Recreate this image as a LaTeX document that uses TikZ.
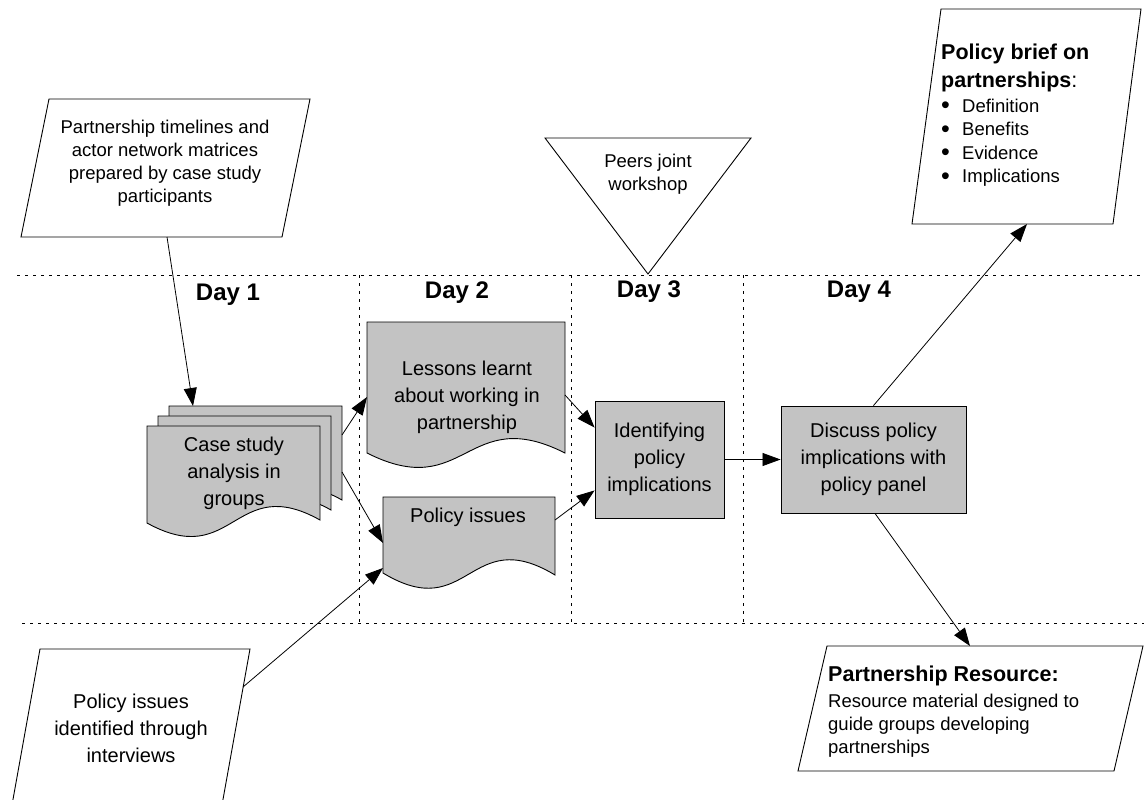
\documentclass[tikz,border=0pt]{standalone}
\usepackage{fontspec}
\setmainfont{Liberation Sans}
\usetikzlibrary{arrows.meta,calc}
\definecolor{docgray}{RGB}{195,195,195}
\newcommand{\blt}{\makebox[21pt][l]{\raisebox{-1.5pt}{\fontsize{25}{23}\selectfont\textbullet}}}

\begin{document}
\begin{tikzpicture}[x=1pt,y=-1pt,
    every node/.style={inner sep=0pt},
    body/.style={font=\fontsize{20}{27}\selectfont, align=center},
    note/.style={font=\fontsize{18.5}{23}\selectfont, align=center},
    head/.style={font=\fontsize{21.5}{28}\selectfont\bfseries, align=left, anchor=north west},
    list/.style={font=\fontsize{18.5}{23.5}\selectfont, align=left, anchor=north west},
    day/.style={font=\fontsize{24}{28}\selectfont\bfseries},
    frame/.style={draw, line width=0.9pt},
    shade/.style={frame, fill=docgray},
    proc/.style={shade, body},
    sep/.style={line width=1pt, dash pattern=on 3pt off 5pt},
    arr/.style={line width=0.8pt, -{Triangle[length=18pt,width=13pt]}}]

    \useasboundingbox (0,0) rectangle (1144,800);

    \draw[sep] (17,275) -- (1144,275);
    \draw[sep] (22,623) -- (1144,623);
    \foreach \x in {359,571,743}
        \draw[sep] (\x,275) -- (\x,623);

    \node[day] (d1) at (228,295) {Day 1};
    \node[day] (d2) at (457,293) {Day 2};
    \node[day] (d3) at (649,292) {Day 3};
    \node[day] (d4) at (859,292) {Day 4};

    \draw[frame] (49,99) -- (310,99) -- (282,237) -- (21,237) -- cycle;
    \node[note] (prep) at (165,163) {Partnership timelines and\\actor network matrices\\prepared by case study\\participants};

    \draw[frame] (545,138) -- (751,138) -- (648,274) -- cycle;
    \node[note] (peers) at (648,174) {Peers joint\\workshop};

    \draw[frame] (941,9) -- (1141,9) -- (1113,224) -- (912,224) -- cycle;
    \node[head] (brief) at (941,43.5) {Policy brief on\\partnerships{\mdseries :}};
    \node[list] (brieflist) at (941,98.5) {\blt Definition\\\blt Benefits\\\blt Evidence\\\blt Implications};

    \draw[frame] (827,646) -- (1143,646) -- (1114,771) -- (798,771) -- cycle;
    \node[head] (res) at (828,665.5) {Partnership Resource:};
    \node[list, font=\fontsize{18.5}{23}\selectfont] (reslist) at (828,693.5) {Resource material designed to\\guide groups developing\\partnerships};

    \draw[frame] (40,649) -- (250,649) -- (222,805) -- (12,805) -- cycle;
    \node[body] (intv) at (131,728) {Policy issues\\identified through\\interviews};

    \foreach \i in {2,1,0}
        \draw[shade, shift={(11*\i,-10*\i)}] (147,523) -- (147,426) -- (320,426) -- (320,520)
            .. controls (234,472) and (234,571) .. (147,523) -- cycle;
    \node[body] (case) at (234,473) {Case study\\analysis in\\groups};

    \draw[shade] (367,453) -- (367,322) -- (565,322) -- (565,453)
        .. controls (466,403) and (466,503) .. (367,453) -- cycle;
    \node[body] (lessons) at (467,397) {Lessons learnt\\about working in\\partnership};

    \draw[shade] (383,573) -- (383,497) -- (555,497) -- (555,575)
        .. controls (469,523) and (469,625) .. (383,573) -- cycle;
    \node[body] (issues) at (468,517) {Policy issues};

    \node[proc, minimum width=129pt, minimum height=117pt] (ident) at (659.5,459.5) {Identifying\\policy\\implications};
    \node[proc, minimum width=185pt, minimum height=107pt] (discuss) at (873.5,459.5) {Discuss policy\\implications with\\policy panel};

    \coordinate (prep-s) at (167,237);
    \coordinate (case-n) at (193,406);
    \coordinate (case-e1) at (342,435);
    \coordinate (case-e2) at (342,472);
    \coordinate (lessons-w) at (367,397);
    \coordinate (lessons-e) at (565,395);
    \coordinate (issues-w1) at (383,543);
    \coordinate (issues-w2) at (383,568);
    \coordinate (issues-e) at (555,520);
    \coordinate (intv-e) at (243,687);
    \coordinate (brief-s) at (1027,224);
    \coordinate (res-n) at (970,646);

    \draw[arr] (prep-s) -- (case-n);
    \draw[arr] (case-e1) -- (lessons-w);
    \draw[arr] (case-e2) -- (issues-w1);
    \draw[arr] (intv-e) -- (issues-w2);
    \draw[arr] (lessons-e) -- ([yshift=-27pt]ident.north west);
    \draw[arr] (issues-e) -- ([yshift=28pt]ident.south west);
    \draw[arr] (ident.east) -- (discuss.west);
    \draw[arr] (discuss.north) -- (brief-s);
    \draw[arr] ([xshift=1.5pt]discuss.south) -- (res-n);
\end{tikzpicture}
\end{document}
